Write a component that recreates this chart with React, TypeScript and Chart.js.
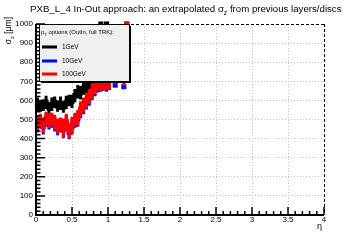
import React, { useEffect, useRef } from "react";
import { Chart, registerables } from "chart.js";

Chart.register(...registerables);

const FONT = "'Liberation Sans', Arial, Helvetica, sans-serif";

// ---- text ----
const titleMain = "PXB_L_4 In-Out approach: an extrapolated σ";
const titleSub = "z";
const titleTail = " from previous layers/discs";
const yTitleMain = "σ";
const yTitleSub = "z";
const yTitleTail = " [μm]";
const xTitle = "η";
const legendHeadMain = "p";
const legendHeadSub = "T";
const legendHeadTail = " options (OutIn, full TRK):";
const seriesLabels = ["1GeV", "10GeV", "100GeV"];
const seriesColors = ["#000000", "#0000ff", "#ff0000"];

// ---- axes ----
const xTickValues = [0, 0.5, 1, 1.5, 2, 2.5, 3, 3.5, 4];
const xTickLabels = ["0", "0.5", "1", "1.5", "2", "2.5", "3", "3.5", "4"];
const yTickValues = [0, 100, 200, 300, 400, 500, 600, 700, 800, 900, 1000];
const yTickLabels = ["0", "100", "200", "300", "400", "500", "600", "700", "800", "900", "1000"];
const xMinorStep = 0.1;
const yMinorStep = 20;
const etaHalfWidth = 0.02;

// ---- data: 1GeV ----
const eta1GeV = [0.02, 0.06, 0.10, 0.14, 0.18, 0.22, 0.26, 0.30, 0.34, 0.38, 0.42, 0.46, 0.50, 0.54, 0.58, 0.62, 0.66, 0.70, 0.74, 0.78, 0.82, 0.86, 0.90, 0.98];
const sigma1GeV = [580, 570, 575, 590, 560, 580, 590, 570, 585, 565, 590, 600, 595, 625, 645, 640, 665, 660, 690, 685, 710, 735, 1000, 1000];
const err1GeV = [35, 30, 30, 35, 30, 35, 30, 30, 35, 30, 35, 30, 35, 35, 35, 35, 35, 35, 40, 35, 40, 40, 0, 0];

// ---- data: 10GeV ----
const eta10GeV = [0.02, 0.06, 0.10, 0.14, 0.18, 0.22, 0.26, 0.30, 0.34, 0.38, 0.42, 0.46, 0.50, 0.54, 0.58, 0.62, 0.66, 0.70, 0.74, 0.78, 0.82, 0.86, 0.90, 0.94, 0.98, 1.02, 1.10, 1.22, 1.26];
const sigma10GeV = [472, 488, 462, 497, 487, 492, 477, 457, 467, 447, 482, 432, 462, 492, 502, 547, 567, 592, 612, 642, 662, 682, 690, 700, 690, 705, 680, 672, 1000];
const err10GeV = [40, 35, 40, 35, 40, 35, 40, 40, 35, 45, 40, 35, 40, 35, 40, 40, 40, 40, 40, 40, 40, 40, 45, 50, 45, 50, 10, 10, 0];

// ---- data: 100GeV ----
const eta100GeV = [0.02, 0.06, 0.10, 0.14, 0.18, 0.22, 0.26, 0.30, 0.34, 0.38, 0.42, 0.46, 0.50, 0.54, 0.58, 0.62, 0.66, 0.70, 0.74, 0.78, 0.82, 0.86, 0.90, 0.94, 0.98, 1.02, 1.10, 1.22, 1.26];
const sigma100GeV = [480, 495, 470, 505, 495, 500, 485, 465, 475, 455, 490, 440, 470, 500, 510, 555, 575, 600, 620, 650, 670, 690, 700, 710, 700, 715, 720, 715, 1000];
const err100GeV = [40, 35, 40, 35, 40, 35, 40, 40, 35, 50, 40, 40, 45, 35, 40, 40, 40, 40, 40, 40, 40, 40, 50, 55, 50, 55, 35, 40, 0];

function toPoints(xs: number[], ys: number[]) {
  return xs.map((x, i) => ({ x, y: ys[i] }));
}

function drawSub(ctx: CanvasRenderingContext2D, main: string, sub: string, tail: string, x: number, y: number, size: number, measureOnly = false): number {
  ctx.font = `${size}px ${FONT}`;
  const w1 = ctx.measureText(main).width;
  ctx.font = `${size * 0.7}px ${FONT}`;
  const w2 = ctx.measureText(sub).width;
  ctx.font = `${size}px ${FONT}`;
  const w3 = ctx.measureText(tail).width;
  if (!measureOnly) {
    ctx.textAlign = "left";
    ctx.textBaseline = "alphabetic";
    ctx.font = `${size}px ${FONT}`;
    ctx.fillText(main, x, y);
    ctx.font = `${size * 0.7}px ${FONT}`;
    ctx.fillText(sub, x + w1, y + size * 0.3);
    ctx.font = `${size}px ${FONT}`;
    ctx.fillText(tail, x + w1 + w2, y);
  }
  return w1 + w2 + w3;
}

const rootPlugin = {
  id: "rootStyle",
  beforeDatasetsDraw(chart: any) {
    const { ctx, chartArea } = chart;
    ctx.save();
    ctx.strokeStyle = "#000";
    ctx.lineWidth = 1;
    ctx.setLineDash([3, 2]);
    ctx.beginPath();
    ctx.moveTo(chartArea.left, chartArea.top + 0.5);
    ctx.lineTo(chartArea.right, chartArea.top + 0.5);
    ctx.moveTo(chartArea.right + 0.5, chartArea.top);
    ctx.lineTo(chartArea.right + 0.5, chartArea.bottom);
    ctx.stroke();
    ctx.restore();
  },
  beforeDatasetDraw(chart: any, args: any) {
    const ds = chart.data.datasets[args.index];
    const errs: number[] = ds.errors;
    const xs = chart.scales.x;
    const ys = chart.scales.y;
    const ctx = chart.ctx;
    ctx.save();
    ctx.strokeStyle = ds.borderColor;
    ctx.lineWidth = 3;
    ctx.beginPath();
    ds.data.forEach((p: any, i: number) => {
      const px = xs.getPixelForValue(p.x);
      const py = ys.getPixelForValue(p.y);
      ctx.moveTo(px, ys.getPixelForValue(p.y - errs[i]));
      ctx.lineTo(px, ys.getPixelForValue(p.y + errs[i]));
      ctx.moveTo(xs.getPixelForValue(p.x - etaHalfWidth), py);
      ctx.lineTo(xs.getPixelForValue(p.x + etaHalfWidth), py);
    });
    ctx.stroke();
    ctx.restore();
  },
  afterDraw(chart: any) {
    const { ctx, chartArea } = chart;
    const xs = chart.scales.x;
    const ys = chart.scales.y;
    ctx.save();
    // axes lines
    ctx.strokeStyle = "#000";
    ctx.lineWidth = 2;
    ctx.beginPath();
    ctx.moveTo(chartArea.left, chartArea.top);
    ctx.lineTo(chartArea.left, chartArea.bottom);
    ctx.lineTo(chartArea.right, chartArea.bottom);
    ctx.stroke();
    // ticks
    ctx.lineWidth = 1.5;
    ctx.beginPath();
    for (let v = yTickValues[0]; v <= yTickValues[yTickValues.length - 1] + 1e-6; v += yMinorStep) {
      const major = Math.abs(v / 100 - Math.round(v / 100)) < 1e-6;
      const py = ys.getPixelForValue(v);
      ctx.moveTo(chartArea.left, py);
      ctx.lineTo(chartArea.left + (major ? 9 : 4.5), py);
    }
    for (let v = xTickValues[0]; v <= xTickValues[xTickValues.length - 1] + 1e-6; v += xMinorStep) {
      const major = Math.abs(v / 0.5 - Math.round(v / 0.5)) < 1e-6;
      const px = xs.getPixelForValue(v);
      ctx.moveTo(px, chartArea.bottom);
      ctx.lineTo(px, chartArea.bottom - (major ? 8 : 4));
    }
    ctx.stroke();

    ctx.fillStyle = "#000";
    // title
    const tw = drawSub(ctx, titleMain, titleSub, titleTail, 0, 0, 10, true);
    const tsize = (10 * 312) / tw;
    drawSub(ctx, titleMain, titleSub, titleTail, 30, 12, tsize);

    // y title
    ctx.save();
    ctx.translate(11, 17);
    ctx.rotate(-Math.PI / 2);
    const yw = drawSub(ctx, yTitleMain, yTitleSub, yTitleTail, 0, 0, 8.5, true);
    drawSub(ctx, yTitleMain, yTitleSub, yTitleTail, -yw, 0, 8.5);
    ctx.restore();

    // x title
    ctx.font = `9px ${FONT}`;
    ctx.textAlign = "right";
    ctx.textBaseline = "alphabetic";
    ctx.fillText(xTitle, 322, 229);

    // legend
    const lx = 39, ly = 24, lw = 90, lh = 57;
    ctx.fillStyle = "#000";
    ctx.fillRect(lx + 2, ly + 2, lw, lh);
    ctx.fillStyle = "#f0f0f0";
    ctx.fillRect(lx, ly, lw, lh);
    ctx.strokeStyle = "#000";
    ctx.lineWidth = 1;
    ctx.strokeRect(lx + 0.5, ly + 0.5, lw, lh);
    ctx.fillStyle = "#000";
    const hw = drawSub(ctx, legendHeadMain, legendHeadSub, legendHeadTail, 0, 0, 10, true);
    const hsize = (10 * 73) / hw;
    drawSub(ctx, legendHeadMain, legendHeadSub, legendHeadTail, 41, 34, hsize);
    const rowY = [47, 61, 74];
    seriesLabels.forEach((lab, i) => {
      ctx.strokeStyle = seriesColors[i];
      ctx.lineWidth = 3;
      ctx.beginPath();
      ctx.moveTo(42, rowY[i]);
      ctx.lineTo(57, rowY[i]);
      ctx.stroke();
      ctx.fillStyle = "#000";
      ctx.font = `6.5px ${FONT}`;
      ctx.textAlign = "left";
      ctx.textBaseline = "middle";
      ctx.fillText(lab, 62, rowY[i]);
    });
    ctx.restore();
  },
};

export default function App() {
  const ref = useRef<HTMLCanvasElement | null>(null);
  useEffect(() => {
    document.body.style.margin = "0";
    const canvas = ref.current!;
    const gridColor = (edgeA: number, edgeB: number) => (c: any) =>
      c.tick && (Math.abs(c.tick.value - edgeA) < 1e-9 || Math.abs(c.tick.value - edgeB) < 1e-9) ? "rgba(0,0,0,0)" : "#c0c0c0";
    const mk = (label: string, color: string, xs: number[], ys: number[], errs: number[]) => ({
      label,
      data: toPoints(xs, ys),
      errors: errs,
      borderColor: color,
      backgroundColor: color,
      pointStyle: "rect",
      pointRadius: 3.6,
      pointBorderWidth: 0,
      showLine: false,
      clip: false,
    });
    const chart = new Chart(canvas, {
      type: "scatter",
      data: {
        datasets: [
          mk(seriesLabels[2], seriesColors[2], eta100GeV, sigma100GeV, err100GeV),
          mk(seriesLabels[1], seriesColors[1], eta10GeV, sigma10GeV, err10GeV),
          mk(seriesLabels[0], seriesColors[0], eta1GeV, sigma1GeV, err1GeV),
        ] as any,
      },
      options: {
        responsive: false,
        animation: false,
        devicePixelRatio: 1,
        layout: { padding: { top: 24, right: 36, left: 0, bottom: 0 } },
        plugins: { legend: { display: false }, tooltip: { enabled: false }, title: { display: false } },
        scales: {
          x: {
            type: "linear",
            min: xTickValues[0],
            max: xTickValues[xTickValues.length - 1],
            afterBuildTicks: (s: any) => {
              s.ticks = xTickValues.map((v) => ({ value: v }));
            },
            afterFit: (s: any) => {
              s.height = 25;
            },
            grid: { color: gridColor(0, 4), drawTicks: false, lineWidth: 1 },
            border: { display: false, dash: [1, 2] },
            ticks: {
              color: "#000",
              font: { size: 8, family: FONT },
              padding: 0,
              maxRotation: 0,
              autoSkip: false,
              callback: (_v: any, i: number) => xTickLabels[i],
            },
          },
          y: {
            type: "linear",
            min: yTickValues[0],
            max: yTickValues[yTickValues.length - 1],
            afterBuildTicks: (s: any) => {
              s.ticks = yTickValues.map((v) => ({ value: v }));
            },
            afterFit: (s: any) => {
              s.width = 36;
            },
            grid: { color: gridColor(0, 1000), drawTicks: false, lineWidth: 1 },
            border: { display: false, dash: [1, 2] },
            ticks: {
              color: "#000",
              font: { size: 8, family: FONT },
              padding: 3,
              autoSkip: false,
              callback: (_v: any, i: number) => yTickLabels[i],
            },
          },
        },
      } as any,
      plugins: [rootPlugin as any],
    });
    return () => chart.destroy();
  }, []);
  return (
    <div style={{ position: "absolute", left: 0, top: 0, width: 360, height: 240, background: "#fff" }}>
      <canvas ref={ref} width={360} height={240} style={{ display: "block", width: 360, height: 240 }} />
    </div>
  );
}
